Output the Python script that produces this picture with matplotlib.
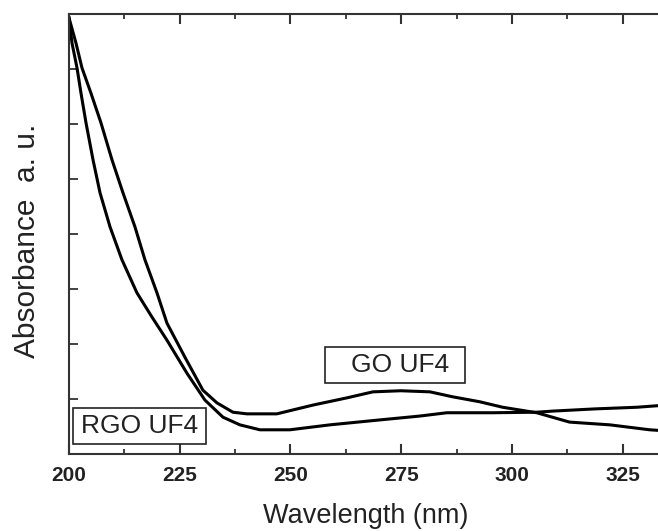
import matplotlib
matplotlib.use("Agg")
import matplotlib.pyplot as plt
from matplotlib.patches import Rectangle
from matplotlib.ticker import MultipleLocator

# ---- data ----
rgo_wl = [200.0, 200.68, 201.81, 202.71, 203.84, 205.42, 207.0, 209.26, 211.96,
          215.34, 218.73, 222.11, 226.62, 230.69, 234.75, 238.58, 243.1, 249.86,
          258.9, 270.2, 279.2, 285.3, 295.7, 305.6, 309.2, 318.7, 328.2, 334.9]
rgo_abs = [7.93, 7.47, 7.02, 6.56, 6.02, 5.35, 4.75, 4.13, 3.53,
           2.93, 2.49, 2.07, 1.47, 0.98, 0.67, 0.53, 0.44, 0.44,
           0.53, 0.62, 0.69, 0.75, 0.75, 0.76, 0.78, 0.82, 0.85, 0.89]

go_wl = [200.0, 201.58, 202.93, 204.96, 207.22, 209.7, 212.18, 214.89, 217.15,
         219.86, 222.11, 226.17, 230.23, 233.39, 237.0, 240.16, 246.93, 255.1,
         262.7, 268.6, 274.9, 281.5, 286.6, 292.7, 297.9, 305.6, 313.0, 322.1,
         331.1, 334.9]
go_abs = [7.93, 7.47, 7.02, 6.56, 6.02, 5.35, 4.75, 4.13, 3.53,
          2.93, 2.38, 1.76, 1.16, 0.93, 0.76, 0.73, 0.73, 0.89,
          1.02, 1.13, 1.15, 1.13, 1.04, 0.95, 0.85, 0.75, 0.58, 0.53,
          0.44, 0.42]

xticks = [200, 225, 250, 275, 300, 325]
xticklabels = ["200", "225", "250", "275", "300", "325"]

W, H = 658, 531
fig = plt.figure(figsize=(W / 100, H / 100), dpi=100)
plt.rcParams['font.family'] = ['Liberation Sans', 'DejaVu Sans']

# axes: left 69px, right 667px (beyond the figure edge), top 14px, bottom 454px
ax = fig.add_axes([69 / W, 1 - 454 / H, (667 - 69) / W, (454 - 14) / H])
ax.set_xlim(200, 335)
ax.set_ylim(0, 8)

line_kw = dict(color='black', lw=2.2, solid_joinstyle='round')
ax.plot(go_wl, go_abs, **line_kw)
ax.plot(rgo_wl, rgo_abs, **line_kw)

for s in ax.spines.values():
    s.set_linewidth(1.5)
    s.set_color('#333333')

ax.set_xticks(xticks)
ax.set_xticklabels(xticklabels)
ax.xaxis.set_minor_locator(MultipleLocator(12.5))
ax.set_yticks([1, 3, 5, 7])
ax.set_yticks([2, 4, 6], minor=True)
ax.set_yticklabels([])

ax.tick_params(axis='x', which='major', direction='in', length=7, width=1.5,
               top=True, bottom=True, color='#333333', pad=8.5,
               labelsize=15, labelcolor='#222222')
ax.tick_params(axis='x', which='minor', direction='in', length=3.5, width=1.3,
               top=True, bottom=True, color='#333333')
ax.tick_params(axis='y', which='major', direction='in', length=6.8, width=1.3,
               left=True, right=True, color='#333333')
ax.tick_params(axis='y', which='minor', direction='in', length=6.5, width=1.3,
               left=True, right=False, color='#333333')
for lab in ax.get_xticklabels():
    lab.set_fontweight('bold')

ax.set_xlabel("Wavelength (nm)", fontsize=19.5, color='#222222')
ax.xaxis.set_label_coords((366 - 69) / 598, (454 - 503) / 440)
ax.set_ylabel("Absorbance  a. u.", fontsize=21.5, color='#222222')
ax.yaxis.set_label_coords((41 - 69) / 598, (454 - 240.5) / 440)

# label boxes
ax.add_patch(Rectangle((200.9, 0.18), 30.0, 0.66, fill=False, lw=1.2,
                       edgecolor='#222222', zorder=3))
ax.text(215.9, 0.51, "RGO UF4", fontsize=19, ha='center', va='center',
        color='#222222', zorder=4)
ax.add_patch(Rectangle((257.8, 1.29), 31.6, 0.66, fill=False, lw=1.2,
                       edgecolor='#222222', zorder=3))
ax.text(274.7, 1.62, "GO UF4", fontsize=19, ha='center', va='center',
        color='#222222', zorder=4)

fig.savefig("out.png", dpi=100)
